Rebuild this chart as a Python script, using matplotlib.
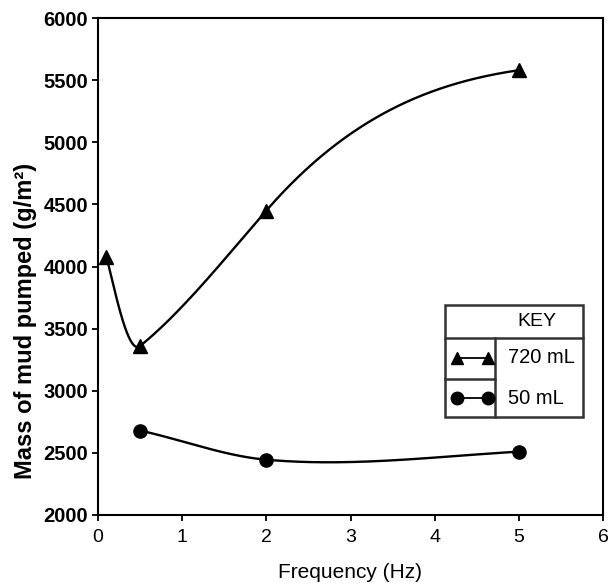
import numpy as np
import matplotlib.pyplot as plt
from matplotlib.patches import Rectangle
from matplotlib.lines import Line2D

plt.rcParams['font.family'] = ['Liberation Sans', 'DejaVu Sans']

# data
freq_720 = [0.1, 0.5, 2, 5]
mass_720 = [4080, 3360, 4450, 5580]
freq_50 = [0.5, 2, 5]
mass_50 = [2680, 2445, 2510]

x_ticks = [0, 1, 2, 3, 4, 5, 6]
y_ticks = [2000, 2500, 3000, 3500, 4000, 4500, 5000, 5500, 6000]

# end tangents of the hand-smoothed curves (shape only, g/m2 per Hz)
tangent_720 = [-2800, 550, 780, 100]
tangent_50 = [-150, -60, 40]


def smooth_curve(x, y, d, n=200):
    """Cubic Hermite curve through the points with the given tangents."""
    x = np.asarray(x, float)
    y = np.asarray(y, float)
    d = np.asarray(d, float)
    h = np.diff(x)
    xs, ys = [], []
    for k in range(len(h)):
        t = np.linspace(0, 1, n)
        h00 = 2 * t**3 - 3 * t**2 + 1
        h10 = t**3 - 2 * t**2 + t
        h01 = -2 * t**3 + 3 * t**2
        h11 = t**3 - t**2
        xs.append(x[k] + t * h[k])
        ys.append(h00 * y[k] + h10 * h[k] * d[k] + h01 * y[k + 1] + h11 * h[k] * d[k + 1])
    return np.concatenate(xs), np.concatenate(ys)


fig = plt.figure(figsize=(6.15, 5.85), dpi=100)
ax = fig.add_axes([98 / 615, 1 - 515 / 585, 505 / 615, 497 / 585])

cx, cy = smooth_curve(freq_720, mass_720, tangent_720)
ax.plot(cx, cy, color='black', lw=1.7)
ax.plot(freq_720, mass_720, ls='none', marker='^', ms=10, color='black')

cx, cy = smooth_curve(freq_50, mass_50, tangent_50)
ax.plot(cx, cy, color='black', lw=1.7)
ax.plot(freq_50, mass_50, ls='none', marker='o', ms=9.5, color='black')

ax.set_xlim(0, 6)
ax.set_ylim(2000, 6000)
ax.set_xticks(x_ticks)
ax.set_yticks(y_ticks)
ax.tick_params(direction='out', length=4, width=1.3, colors='black')
ax.tick_params(axis='x', labelsize=14, pad=6)
ax.tick_params(axis='y', labelsize=14.5, pad=3)
for lab in ax.get_yticklabels():
    lab.set_fontweight('bold')
for sp in ax.spines.values():
    sp.set_linewidth(1.5)

ax.set_xlabel('Frequency (Hz)', fontsize=15, labelpad=12)
ax.set_ylabel('Mass of mud pumped (g/m²)', fontsize=17, fontweight='bold')
ax.yaxis.set_label_coords(-0.12, 0.39)

# KEY table
tr = ax.transAxes
lc = '#333333'
ax.add_patch(Rectangle((0.687, 0.197), 0.273, 0.226, transform=tr, fill=False,
                       lw=1.8, edgecolor=lc))
ax.add_line(Line2D([0.687, 0.960], [0.356, 0.356], transform=tr, lw=1.8, color=lc))
ax.add_line(Line2D([0.687, 0.786], [0.274, 0.274], transform=tr, lw=1.8, color=lc))
ax.add_line(Line2D([0.786, 0.786], [0.197, 0.356], transform=tr, lw=1.8, color=lc))
ax.text(0.870, 0.390, 'KEY', transform=tr, ha='center', va='center', fontsize=14)
ax.add_line(Line2D([0.711, 0.772], [0.316, 0.316], transform=tr, lw=1.3,
                   color='black', marker='^', ms=8.5))
ax.add_line(Line2D([0.711, 0.772], [0.235, 0.235], transform=tr, lw=1.3,
                   color='black', marker='o', ms=9))
ax.text(0.812, 0.316, '720 mL', transform=tr, ha='left', va='center', fontsize=14.5)
ax.text(0.812, 0.235, '50 mL', transform=tr, ha='left', va='center', fontsize=14.5)

fig.savefig('out.png', dpi=100)
